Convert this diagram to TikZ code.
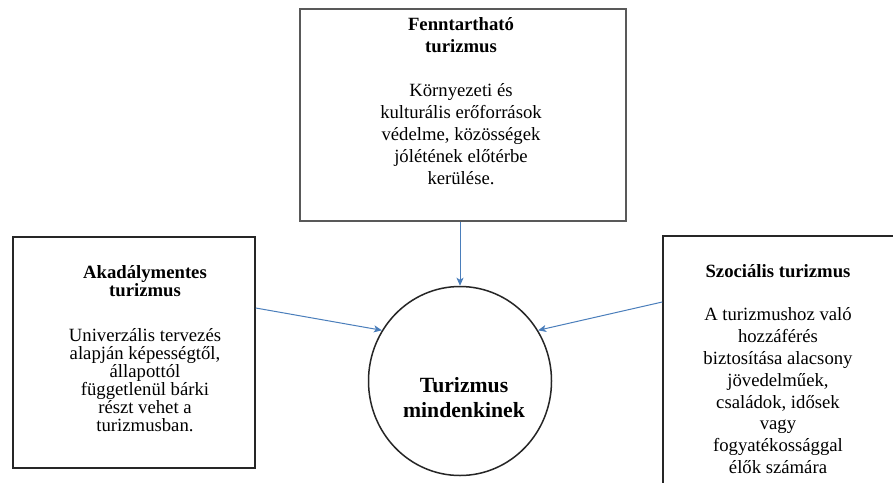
\documentclass[tikz,border=0pt]{standalone}
\usepackage{fontspec}
\setmainfont{Liberation Serif}
\usetikzlibrary{shapes.geometric,arrows.meta,calc}
\definecolor{arrowblue}{HTML}{4A7EBB}
\tikzset{
  conceptbox/.style={draw=#1, rectangle, inner sep=0pt},
  % multi-line nodes are anchored at the baseline of their last line
  bodytext/.style={font=\fontsize{18.7}{#1}\selectfont, align=center, inner sep=0pt, anchor=base},
  link/.style={draw=arrowblue, line width=1pt, -{Stealth[length=8pt,width=7pt,inset=2pt]}},
}
\begin{document}
\begin{tikzpicture}[x=1pt,y=-1pt]
\useasboundingbox (0,0) rectangle (893,482);
\clip (0,0) rectangle (893,482);
\fill[white] (0,0) rectangle (893,482);

% the three concept boxes
\node[conceptbox=black!65, line width=2pt, minimum width=326pt, minimum height=212pt] (T) at (463,115) {};
\node[conceptbox=black!85, line width=1.6pt, minimum width=242pt, minimum height=231pt] (L) at (134,352.5) {};
\node[conceptbox=black!85, line width=1.5pt, minimum width=237pt, minimum height=264pt] (R) at (781.5,368) {};

% central circle
\node[ellipse, draw=black!85, line width=1.5pt, minimum width=183pt, minimum height=189pt, inner sep=0pt] (C) at (460,381) {};

% box texts
\node[bodytext=22pt] (Ttext) at (461,184)
  {\textbf{Fenntartható}\\\textbf{turizmus}\\[22pt]
   Környezeti és\\kulturális erőforrások\\védelme, közösségek\\jólétének előtérbe\\kerülése.};
\node[bodytext=18pt] (Ltext) at (145,431)
  {\textbf{Akadálymentes}\\\textbf{turizmus}\\[27pt]
   Univerzális tervezés\\alapján képességtől,\\állapottól\\függetlenül bárki\\részt vehet a\\turizmusban.};
\node[bodytext=21.8pt] (Rtext) at (778,473.4)
  {\textbf{Szociális turizmus}\\[22pt]
   A turizmushoz való\\hozzáférés\\biztosítása alacsony\\jövedelműek,\\családok, idősek\\vagy\\fogyatékossággal\\élők számára};
\node[font=\fontsize{21.7}{25}\selectfont\bfseries, align=center, inner sep=0pt, anchor=base] (Ctext) at (464,417)
  {Turizmus\\mindenkinek};

% connectors
\draw[link] (C.north |- T.south) -- (C.north);
\draw[link] ([yshift=44.5pt]L.east) -- (C.147);
\draw[link] ([yshift=66pt]R.west) -- (C.33);
\end{tikzpicture}
\end{document}
